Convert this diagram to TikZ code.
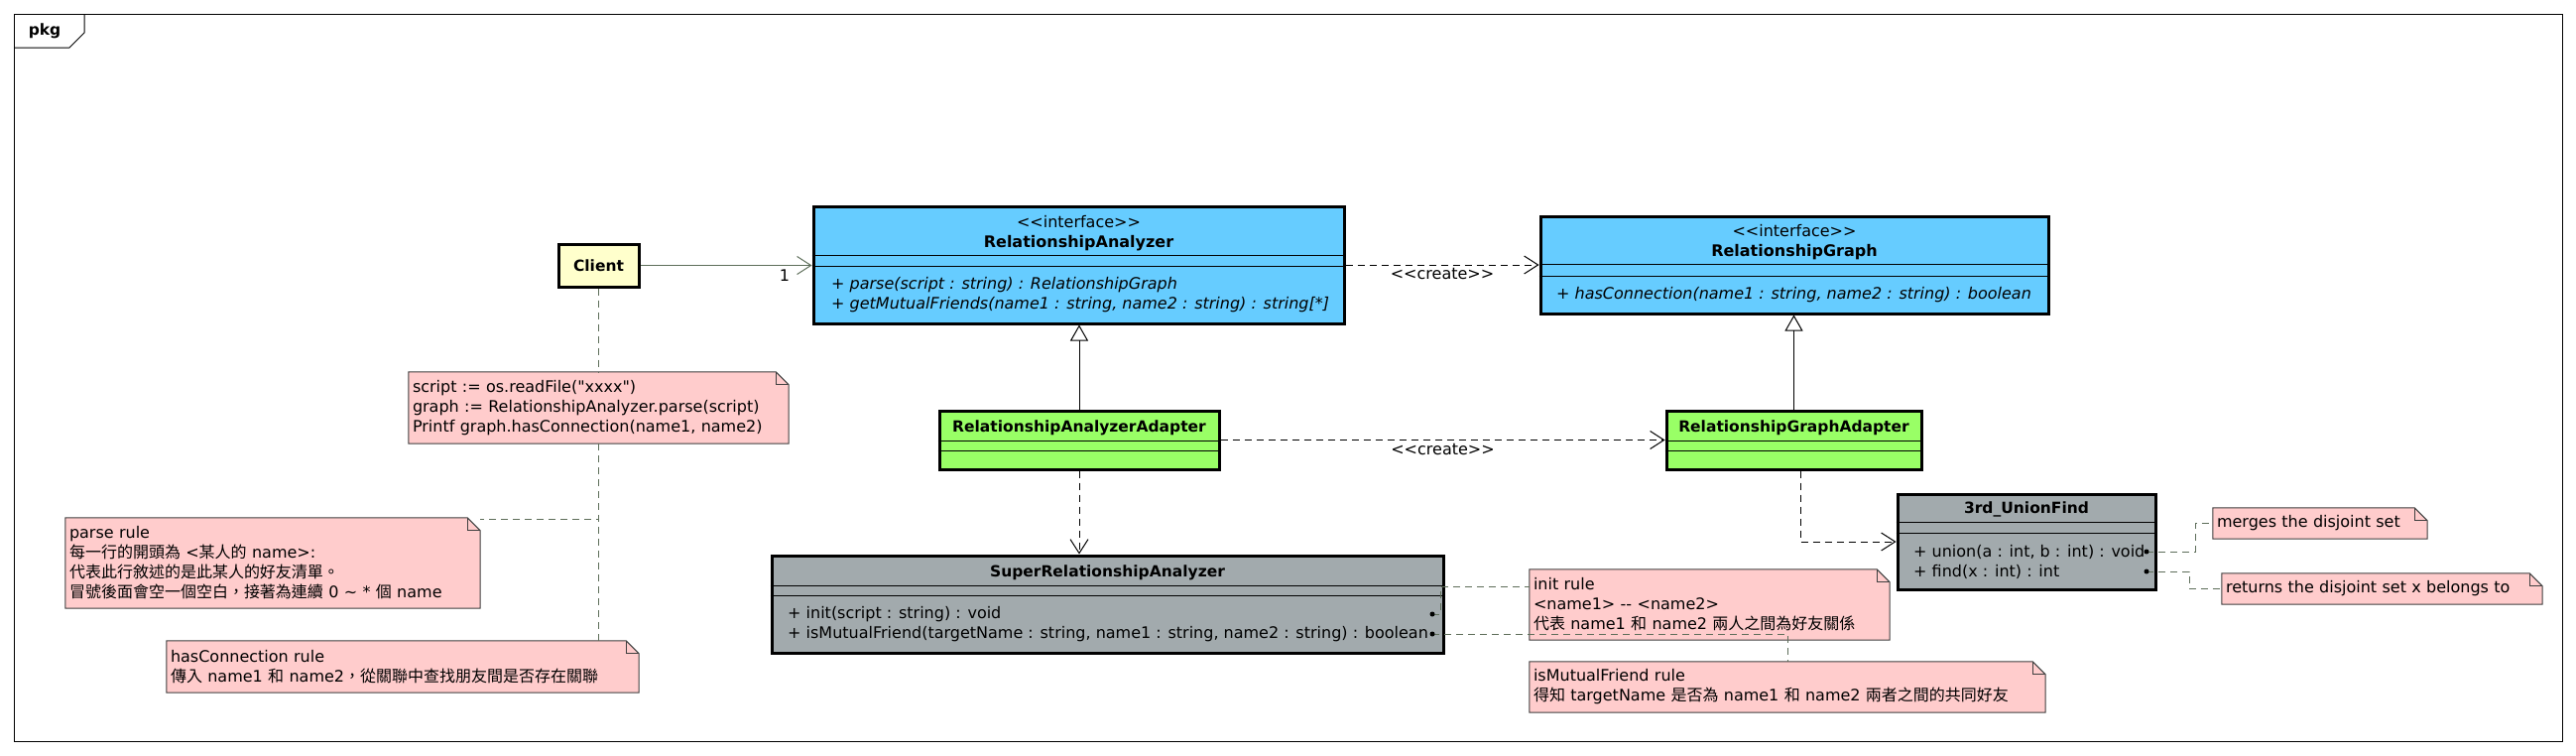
\documentclass[tikz,border=0pt]{standalone}
\usepackage{fontspec}
\setmainfont{DejaVu Sans}[Ligatures=TeXOff]
\newfontfamily\cjk{Noto Sans CJK TC}
\usetikzlibrary{arrows.meta,backgrounds}

\definecolor{ifaceblue}{HTML}{66CCFF}
\definecolor{adaptgreen}{HTML}{99FF66}
\definecolor{thirdgray}{HTML}{A2AAAD}
\definecolor{clientyellow}{HTML}{FFFFCC}
\definecolor{notepink}{HTML}{FFCCCC}
\definecolor{linkgreen}{HTML}{5E6E5A}

\newcommand\fs{\fontsize{16}{20}\selectfont}
\newcommand\compline[2]{\draw[line width=1.2pt] ([yshift=-#2pt]#1.north west) -- ([yshift=-#2pt]#1.north east);}
\newcommand\notefold[1]{%
  \begin{scope}[on background layer]
  \filldraw[fill=notepink, draw=black!75, line width=1pt] (#1.north west) -- ([xshift=-13pt]#1.north east) -- ([yshift=-13pt]#1.north east) -- (#1.south east) -- (#1.south west) -- cycle;
  \draw[black!75, line width=1pt] ([xshift=-13pt]#1.north east) -- ([xshift=-13pt,yshift=-13pt]#1.north east) -- ([yshift=-13pt]#1.north east);
  \end{scope}}

\begin{document}
\begin{tikzpicture}[x=1pt, y=-1pt, font=\fs,
  classbox/.style={draw, line width=3pt, inner sep=0pt},
  txt/.style={inner sep=0pt},
  bold/.style={inner sep=0pt, font=\fontsize{15.5}{20}\selectfont\bfseries},
  ops/.style={inner sep=0pt, align=left, anchor=west},
  opsit/.style={ops, font=\fs\itshape},
  note/.style={inner xsep=4pt, inner ysep=0pt, align=left},
  assoc/.style={draw=linkgreen, line width=1pt, -{Straight Barb[length=14pt,width=18pt]}},
  dep/.style={dash pattern=on 7pt off 5pt, line width=1pt, -{Straight Barb[length=14pt,width=18pt]}},
  inherit/.style={line width=1pt, -{Triangle[open,length=16pt,width=18pt]}},
  noteln/.style={draw=linkgreen, dash pattern=on 7pt off 5pt, line width=1pt}]
\useasboundingbox (0,0) rectangle (2597,761);

\draw[line width=1pt] (14,14) rectangle (2583,747);
\draw[line width=1pt] (14,48) -- (70,48) -- (85,33) -- (85,14);
\node[bold] (pkg) at (45,31) {pkg};

\node[classbox, fill=clientyellow, minimum width=81pt, minimum height=43pt, font=\fontsize{15.5}{20}\selectfont\bfseries] (Client) at (603.5,267.5) {Client};

\node[classbox, fill=ifaceblue, minimum width=535pt, minimum height=118pt] (RA) at (1087.5,267) {};
\node[txt, align=center] (RAname) at (1087.5,235) {<<interface>>\\\textbf{RelationshipAnalyzer}};
\node[opsit] (RAops) at (838,297) {+ parse(script : string) : RelationshipGraph\\+ getMutualFriends(name1 : string, name2 : string) : string[*]};
\compline{RA}{51}
\compline{RA}{62}

\node[classbox, fill=ifaceblue, minimum width=512pt, minimum height=98pt] (RG) at (1809,267) {};
\node[txt, align=center] (RGname) at (1809,244.5) {<<interface>>\\\textbf{RelationshipGraph}};
\node[opsit] (RGops) at (1569,297) {+ hasConnection(name1 : string, name2 : string) : boolean};
\compline{RG}{50}
\compline{RG}{62}

\node[classbox, fill=adaptgreen, minimum width=282pt, minimum height=59pt] (RAA) at (1088,443.5) {};
\node[bold] (RAAname) at (1088,431) {RelationshipAnalyzerAdapter};
\compline{RAA}{32}
\compline{RAA}{42}

\node[classbox, fill=adaptgreen, minimum width=257pt, minimum height=59pt] (RGA) at (1808.5,443.5) {};
\node[bold] (RGAname) at (1808.5,431) {RelationshipGraphAdapter};
\compline{RGA}{32}
\compline{RGA}{42}

\node[classbox, fill=thirdgray, minimum width=677pt, minimum height=98pt] (SRA) at (1116.5,609) {};
\node[bold] (SRAname) at (1116.5,577) {SuperRelationshipAnalyzer};
\node[ops] (SRAops) at (794,629) {+ init(script : string) : void\\+ isMutualFriend(targetName : string, name1 : string, name2 : string) : boolean};
\compline{SRA}{32}
\compline{SRA}{42}

\node[classbox, fill=thirdgray, minimum width=260pt, minimum height=96pt] (UF) at (2043,546) {};
\node[bold] (UFname) at (2043,513) {3rd\_UnionFind};
\node[ops] (UFops) at (1929,566) {+ union(a : int, b : int) : void\\+ find(x : int) : int};
\compline{UF}{30}
\compline{UF}{41}

\node[note, text width=375pt, minimum height=72pt] (CN) at (603.5,411) {script := os.readFile("xxxx")\\graph := RelationshipAnalyzer.parse(script)\\Printf graph.hasConnection(name1, name2)};
\node[note, text width=410pt, minimum height=91pt] (PR) at (275,567.5) {parse rule\\{\cjk 每一行的開頭為} <{\cjk 某人的} name>:\\{\cjk 代表此行敘述的是此某人的好友清單。}\\{\cjk 冒號後面會空一個空白，接著為連續} 0 \textasciitilde{} * {\cjk 個} name};
\node[note, text width=468pt, minimum height=52pt] (HC) at (406,672) {hasConnection rule\\{\cjk 傳入} name1 {\cjk 和} name2{\cjk ，從關聯中查找朋友間是否存在關聯}};
\node[note, text width=355pt, minimum height=71pt] (IR) at (1723.5,609.5) {init rule\\<name1> \mbox{-}\mbox{-} <name2>\\{\cjk 代表} name1 {\cjk 和} name2 {\cjk 兩人之間為好友關係}};
\node[note, text width=512pt, minimum height=51pt] (IM) at (1802,692.5) {isMutualFriend rule\\{\cjk 得知} targetName {\cjk 是否為} name1 {\cjk 和} name2 {\cjk 兩者之間的共同好友}};
\node[note, text width=208pt, minimum height=31pt] (MG) at (2339,527.5) {merges the disjoint set};
\node[note, text width=315pt, minimum height=31pt] (RT) at (2401.5,593.5) {returns the disjoint set x belongs to};
\notefold{CN}
\notefold{PR}
\notefold{HC}
\notefold{IR}
\notefold{IM}
\notefold{MG}
\notefold{RT}

\coordinate (SRAinit) at (1444,619);
\coordinate (SRAmutual) at (1444,639);
\coordinate (UFunion) at (2164,556);
\coordinate (UFfind) at (2164,576);

\draw[assoc] (Client.east) -- (Client.east -| RA.west) node[pos=1, anchor=north east, inner sep=0pt, xshift=-22pt, yshift=-4pt] {1};
\draw[dep] (RA.east) -- (RG.west) node[midway, below, inner sep=3pt] {<<create>>};
\draw[dep] (RAA.east) -- (RGA.west) node[midway, below, inner sep=3pt] {<<create>>};
\draw[inherit] (RAA.north) -- (RAA.north |- RA.south);
\draw[inherit] (RGA.north) -- (RGA.north |- RG.south);
\draw[dep] (RAA.south) -- (RAA.south |- SRA.north);
\draw[dep] ([xshift=6.5pt]RGA.south) |- (UF.west);

\draw[noteln] (Client.south) -- (CN.north);
\draw[noteln] (CN.south) |- ([yshift=-2pt]PR.north east);
\draw[noteln] (CN.south) -- (CN.south |- HC.north);
\draw[noteln] (SRAinit) -- ++(8,0) |- ([yshift=-18pt]IR.north west);
\draw[noteln] (SRAmutual) -| (IM.north);
\draw[noteln] (UFunion) -- ++(49,0) |- (MG.west);
\draw[noteln] (UFfind) -- ++(43,0) |- (RT.west);

\fill (SRAinit) circle (2.5pt);
\fill (SRAmutual) circle (2.5pt);
\fill (UFunion) circle (2.5pt);
\fill (UFfind) circle (2.5pt);
\end{tikzpicture}
\end{document}
